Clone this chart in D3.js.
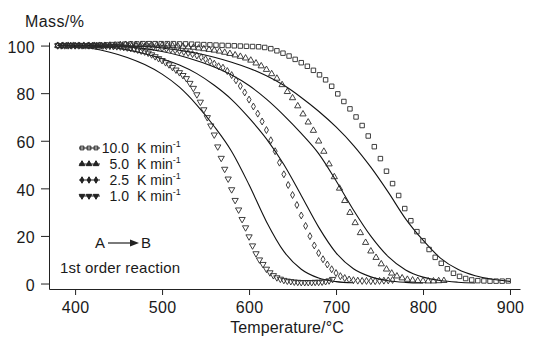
<!DOCTYPE html>
<html><head><meta charset="utf-8">
<script src="https://cdn.jsdelivr.net/npm/d3@7"></script>
<style>
body{margin:0;background:#fff}
svg text{font-family:"Liberation Sans",Arial,Helvetica,sans-serif;fill:#1a1a1a}
</style></head><body>
<svg id="c" width="534" height="342"></svg>
<script>
// ---------- data ----------
const heatingRates = ["10.0", "5.0", "2.5", "1.0"];
const xTickLabels = [400, 500, 600, 700, 800, 900];
const yTickLabels = [0, 20, 40, 60, 80, 100];

// measured mass (%) – symbols; temperatures sampled on an even grid
const temps10 = d3.range(380, 899, 7);
const mass10 = [100,100,100,100,100,100,100.1,100.2,100.3,100.4,100.5,100.6,100.7,100.7,100.8,100.8,100.8,100.8,100.8,100.8,
  100.7,100.7,100.6,100.5,100.4,100.3,100.2,100.1,100,99.9,99.8,99.7,99.6,99.5,99.2,98.7,97.8,96.8,95.6,94.2,
  92.8,91.3,89.6,87.7,85.6,82.9,79.7,76.5,73.4,70,66.4,62,57.5,52.5,47.2,42,37,31.5,26.4,21.8,
  18,14.3,11,8.5,6.2,4.3,3,2.1,1.5,1.2,1.1,1,1,1,1.1];

const temps5 = d3.range(380, 825, 6);
const mass5 = [100,100,100,100,100,100,100,100,100,100,100.1,100.2,100.3,100.4,100.4,100.4,100.4,100.3,100.3,100.2,
  100.1,100,99.9,99.8,99.6,99.4,99.2,98.9,98.6,98.3,98,97.6,97.1,96.6,96,95.4,94.7,93.8,92.6,91.4,
  89.9,88.1,86.2,83.5,80.6,78,74.6,71.2,67.8,64.3,59.8,55.5,50.2,44.8,40,34.8,29.8,25.5,21.3,17.2,
  13.6,10.9,8.2,6,4.3,3.1,2.3,1.7,1.4,1.2,1.1,1,1,1.1,1.2];

const temps25 = d3.range(380, 766, 5);
const mass25 = [100,100,100,100,100,100,100,100,100,100,100,100,100,100,100,99.9,99.9,99.8,99.8,99.7,
  99.6,99.5,99.3,99.1,98.9,98.6,98.3,98,97.7,97.3,96.9,96.4,95.8,95.1,94.3,93.4,92.4,91.3,90.7,89.3,
  87.6,85.4,83,80.3,77.3,74.4,71.4,68.1,64.5,60.2,55.6,50.8,45.9,41.4,37.2,33,28.6,24.2,19.9,16,
  12.8,10.2,8,6,4.4,3.1,2.3,1.7,1.4,1.2,1.1,1.1,1,1,1.1,1.2,1.3,1.5];

const temps1 = d3.range(380, 697, 4);
const mass1 = [100,100,100,100,100,100,100,100,100,100,100,99.9,99.9,99.9,99.8,99.8,99.7,99.6,99.5,99.3,
  99.1,98.9,98.6,98.2,97.8,97.4,96.9,96.2,95.4,94.6,93.8,92.9,92,90.9,89.8,88.7,87.5,86.2,84.2,82.1,
  79.4,76.3,73.1,69.8,66.3,62.5,57.5,52.7,48.1,44,39.5,35,31,27,23.5,19.7,15.9,12.6,10,8.1,
  6.1,4.6,3.4,2.5,1.9,1.4,1.1,0.9,0.7,0.6,0.5,0.5,0.5,0.5,0.6,0.6,0.7,0.9,1.2,1.8];

// first-order model curves (solid lines), read every 20 °C
const modelTemps = d3.range(380, 901, 20);
const model1 = [100,99.6,98.8,97.2,95,92,88,82.5,75,66,55.5,41.5,26,13.5,6,2.3,0.8,0.3];
const model25 = [100,99.9,99.7,99.3,98.2,96.6,94.5,91.8,88.2,83.3,77.3,69.6,60.8,50,37,23.7,12.9,6.2,2.8,1.2,0.5,0.2];
const model5 = [100,100,99.9,99.7,99.4,98.7,97.5,95.8,93.6,91,87.6,83.2,77.5,70.7,63.1,54.6,43.2,30.9,19.9,11.3,5.7,2.7,1.25,0.55,0.2];
const model10 = [100,100,99.95,99.9,99.8,99.6,99,98,96.8,95.1,93,90.5,87.3,83.3,78.2,72.4,65.8,58.1,48.9,38.4,27.2,18.2,10.7,6,3.3,1.8,0.9];

// ---------- chart ----------
const svg = d3.select("#c");
const x = d3.scaleLinear().domain([370, 911.5]).range([49, 520]);
const y = d3.scaleLinear().domain([-2.3, 101.5]).range([289, 42]);
const ink = "#222";
const FONT = "Liberation Sans, Arial, sans-serif";

// axes
const xMinor = d3.range(380, 911, 20).filter(v => v % 100 !== 0);
const gx = svg.append("g").attr("transform", "translate(0,289)");
gx.call(d3.axisBottom(x).tickValues(xMinor).tickSize(4).tickSizeOuter(0).tickFormat(""));
gx.call(d3.axisBottom(x).tickValues(xTickLabels).tickSize(6).tickSizeOuter(0).tickPadding(6.5).tickFormat(d3.format("d")));
gx.selectAll("text").attr("font-size", 16).attr("fill", "#1a1a1a").attr("font-family", FONT).attr("letter-spacing", 0.3);

const yMinor = d3.range(0, 101, 5).filter(v => v % 20 !== 0);
const gy = svg.append("g").attr("transform", "translate(49,0)");
gy.call(d3.axisLeft(y).tickValues(yMinor).tickSize(5).tickSizeOuter(0).tickFormat(""));
gy.call(d3.axisLeft(y).tickValues(yTickLabels).tickSize(8).tickSizeOuter(0).tickPadding(6).tickFormat(d3.format("d")));
gy.selectAll("text").attr("font-size", 16).attr("fill", "#1a1a1a").attr("dy", "0.42em").attr("font-family", FONT).attr("letter-spacing", 0.3);
svg.selectAll(".domain, .tick line").attr("stroke", ink).attr("stroke-width", 1);

svg.append("text").attr("x", 25).attr("y", 27).attr("font-size", 16).attr("letter-spacing", 0.4).text("Mass/%");
svg.append("text").attr("x", 287).attr("y", 333).attr("text-anchor", "middle").attr("font-size", 16)
  .attr("letter-spacing", 0.1).text("Temperature/°C");

// model curves
const line = d3.line().x(d => x(d[0])).y(d => y(d[1])).curve(d3.curveMonotoneX);
[model1, model25, model5, model10].forEach(m => {
  svg.append("path").datum(m.map((v, i) => [modelTemps[i], v]))
    .attr("d", line).attr("fill", "none").attr("stroke", "#111").attr("stroke-width", 1.1);
});

// symbols
const shapes = {
  square: d3.symbol().type(d3.symbolSquare).size(20)(),
  tri: d3.symbol().type(d3.symbolTriangle).size(17)(),
  diamond: d3.symbol().type(d3.symbolDiamond).size(14)()
};
const seriesDefs = [
  {temps: temps10, mass: mass10, shape: shapes.square, rot: 0},
  {temps: temps5, mass: mass5, shape: shapes.tri, rot: 0},
  {temps: temps25, mass: mass25, shape: shapes.diamond, rot: 0},
  {temps: temps1, mass: mass1, shape: shapes.tri, rot: 180}
];
seriesDefs.forEach(s => {
  svg.append("g").selectAll("path").data(s.mass.map((v, i) => [s.temps[i], v])).join("path")
    .attr("d", s.shape)
    .attr("transform", d => `translate(${x(d[0])},${y(d[1])}) rotate(${s.rot})`)
    .attr("fill", "none").attr("stroke", "#2a2a2a").attr("stroke-width", 0.9);
});

// legend
const legShapes = {
  square: d3.symbol().type(d3.symbolSquare).size(14)(),
  tri: d3.symbol().type(d3.symbolTriangle).size(14)(),
  diamond: d3.symbol().type(d3.symbolDiamond).size(12)()
};
const legDefs = [legShapes.square, legShapes.tri, legShapes.diamond, legShapes.tri];
const lg = svg.append("g");
seriesDefs.forEach((s, i) => {
  const yy = 148 + i * 16;
  lg.append("line").attr("x1", 79).attr("x2", 100).attr("y1", yy).attr("y2", yy).attr("stroke", ink).attr("stroke-width", 1);
  [82, 89, 96].forEach(cx => lg.append("path").attr("d", legDefs[i])
    .attr("transform", `translate(${cx},${yy}) rotate(${s.rot})`)
    .attr("fill", i === 0 ? "none" : ink).attr("stroke", ink).attr("stroke-width", 1));
  lg.append("text").attr("x", 129).attr("y", yy + 5).attr("text-anchor", "end").attr("font-size", 14).text(heatingRates[i]);
  const t = lg.append("text").attr("x", 137).attr("y", yy + 5).attr("font-size", 14);
  t.append("tspan").text("K min");
  t.append("tspan").attr("font-size", 9).attr("dy", -6).text("-1");
});

// reaction annotation
svg.append("text").attr("x", 100).attr("y", 248).attr("text-anchor", "middle").attr("font-size", 15).text("A");
svg.append("line").attr("x1", 108).attr("x2", 131).attr("y1", 243).attr("y2", 243).attr("stroke", ink).attr("stroke-width", 1.2);
svg.append("path").attr("d", "M130,239.5 L139,243 L130,246.5 Z").attr("fill", ink);
svg.append("text").attr("x", 146).attr("y", 248).attr("text-anchor", "middle").attr("font-size", 15).text("B");
svg.append("text").attr("x", 60).attr("y", 273).attr("font-size", 15).attr("letter-spacing", 0.2).text("1st order reaction");
</script>
</body></html>
